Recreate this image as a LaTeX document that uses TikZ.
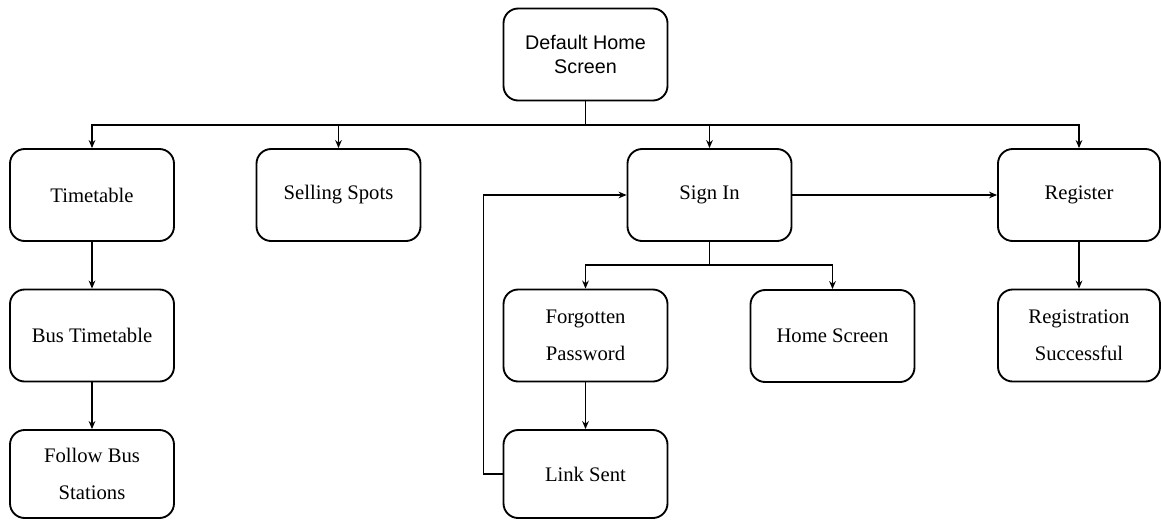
\documentclass[tikz,border=0pt]{standalone}
\usepackage{fontspec}
\setmainfont{Liberation Serif}
\newfontfamily\boxsans{Liberation Sans}
\usetikzlibrary{arrows.meta}
\begin{document}
\begin{tikzpicture}[x=0.75pt,y=-0.75pt,
  box/.style={draw=black,line width=1.4pt,rounded corners=11pt,minimum width=123pt,minimum height=69pt,inner sep=0pt,align=center,font=\fontsize{15.5}{27.5}\selectfont},
  topbox/.style={box,font=\boxsans\fontsize{14.8}{18}\selectfont},
  lowbox/.style={box,minimum height=66pt},
  conn/.style={line width=1.3pt},
  arr/.style={conn,-{Stealth[length=6pt,width=5pt]}}]
\useasboundingbox (0,0) rectangle (1161,519);
\node[topbox] (home) at (585.5,54.5) {Default Home\\Screen};
\node[box] (tt) at (92,195) {Timetable};
\node[box] (ss) at (338.5,195) {Selling Spots};
\node[box] (si) at (709.5,195) {Sign In};
\node[box,minimum width=121.5pt] (reg) at (1079,195) {Register};
\node[box] (bt) at (92,335.5) {Bus Timetable};
\node[box] (fp) at (585.5,335.5) {Forgotten\\Password};
\node[box] (hs) at (832.5,336) {Home Screen};
\node[box,minimum width=121.5pt] (rs) at (1079,335.5) {Registration\\Successful};
\node[lowbox] (fb) at (92,474) {Follow Bus\\Stations};
\node[lowbox] (ls) at (585.5,474) {Link Sent};
\coordinate (bus) at (585.5,125);
\coordinate (split) at (709.5,265);
\coordinate (loop) at (483.5,0);
\draw[conn] (home.south) -- (home.south |- bus);
\draw[arr] (home.south |- bus) -| (tt.north);
\draw[arr] (home.south |- bus) -| (ss.north);
\draw[arr] (home.south |- bus) -| (si.north);
\draw[arr] (home.south |- bus) -| (reg.north);
\draw[arr] (tt) -- (bt);
\draw[arr] (bt) -- (fb);
\draw[arr] (si) -- (reg);
\draw[arr] (reg) -- (rs);
\draw[conn] (si.south) -- (split);
\draw[arr] (split) -| (fp.north);
\draw[arr] (split) -| (hs.north);
\draw[arr] (fp) -- (ls);
\draw[arr] (ls.west) -- (ls.west -| loop) |- (si.west);
\end{tikzpicture}
\end{document}
